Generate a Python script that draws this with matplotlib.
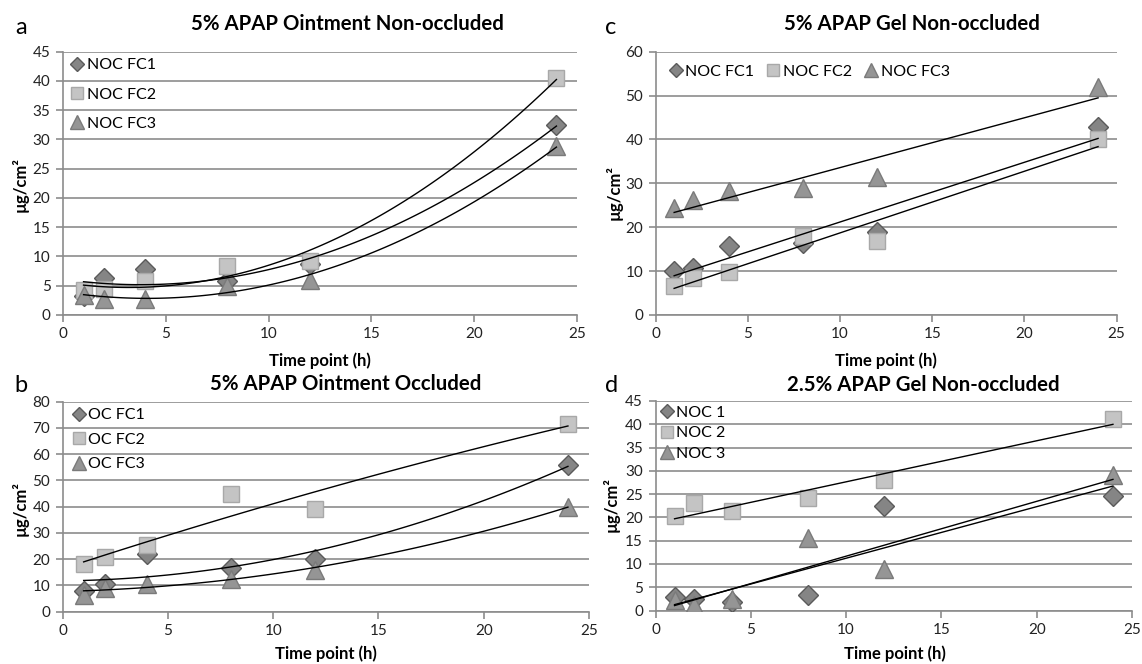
import numpy as np
import matplotlib
matplotlib.use("Agg")
import matplotlib.pyplot as plt

plt.rcParams['font.family'] = ['Lato', 'DejaVu Sans']

W, H = 1142, 664

time_h = [1, 2, 4, 8, 12, 24]

# a: 5% APAP Ointment Non-occluded
a_labels = ["NOC FC1", "NOC FC2", "NOC FC3"]
a_fc1 = [3.3, 6.4, 7.8, 5.8, 8.8, 32.5]
a_fc2 = [4.3, 4.5, 5.8, 8.3, 9.2, 40.5]
a_fc3 = [3.5, 2.8, 2.8, 5.0, 6.0, 28.8]

# b: 5% APAP Ointment Occluded
b_labels = ["OC FC1", "OC FC2", "OC FC3"]
b_fc1 = [8.0, 10.5, 22.0, 16.5, 20.0, 56.0]
b_fc2 = [18.0, 21.0, 25.5, 45.0, 39.0, 71.5]
b_fc3 = [6.5, 9.0, 10.5, 12.5, 16.0, 40.0]

# c: 5% APAP Gel Non-occluded
c_labels = ["NOC FC1", "NOC FC2", "NOC FC3"]
c_fc1 = [10.0, 10.8, 15.8, 16.5, 19.0, 42.8]
c_fc2 = [6.5, 8.5, 9.8, 18.0, 16.8, 40.0]
c_fc3 = [24.3, 26.3, 28.2, 29.0, 31.5, 52.0]

# d: 2.5% APAP Gel Non-occluded
d_labels = ["NOC 1", "NOC 2", "NOC 3"]
d_n1 = [2.8, 2.5, 1.8, 3.3, 22.5, 24.5]
d_n2 = [20.2, 23.0, 21.3, 24.2, 28.0, 41.2]
d_n3 = [2.2, 1.2, 2.5, 15.5, 9.0, 29.0]

styles = [
    dict(marker="D", ms=10, mfc="#858585", mec="#5a5a5a"),
    dict(marker="s", ms=12, mfc="#c4c4c4", mec="#a8a8a8"),
    dict(marker="^", ms=13, mfc="#959595", mec="#7a7a7a"),
]

fig = plt.figure(figsize=(W / 100, H / 100), dpi=100)


def box(x0, y0, x1, y1):
    return [x0 / W, 1 - y1 / H, (x1 - x0) / W, (y1 - y0) / H]


def ftext(x, y, s, **kw):
    fig.text(x / W, 1 - y / H, s, ha="center", va="center", **kw)


def panel(rect, series, labels, ymax, ystep, order, legend_kw):
    ax = fig.add_axes(box(*rect))
    for ys, lab, st in zip(series, labels, styles):
        ax.plot(time_h, ys, ls="none", mew=1, zorder=3, label=lab, **st)
    # trend lines fitted to each series (poly 2 for ointment, linear for gel)
    xs = np.linspace(1, 24, 100)
    for ys in series:
        coef = np.polyfit(time_h, ys, order)
        ax.plot(xs, np.polyval(coef, xs), color="black", lw=1, zorder=4)
    ax.set_xlim(0, 25)
    ax.set_ylim(0, ymax)
    ax.set_xticks(range(0, 26, 5))
    ax.set_yticks(np.arange(0, ymax + 1, ystep))
    ax.yaxis.grid(True, color="#8c8c8c", lw=1.2)
    ax.set_axisbelow(True)
    for s in ["top", "right"]:
        ax.spines[s].set_visible(False)
    for s in ["left", "bottom"]:
        ax.spines[s].set_color("#8c8c8c")
        ax.spines[s].set_linewidth(1.2)
    ax.tick_params(length=5, width=1.2, color="#8c8c8c", labelsize=11,
                   labelcolor="#222222", pad=4)
    ax.legend(frameon=False, fontsize=11.5, handletextpad=0.1,
              handlelength=1.0, borderaxespad=0, markerscale=0.75,
              **legend_kw)
    return ax


panel((63, 51.7, 577, 315), [a_fc1, a_fc2, a_fc3], a_labels, 45, 5, 2,
      dict(loc="upper left", bbox_to_anchor=(0.0, 1.0), labelspacing=0.95))
panel((62.6, 401.7, 589, 611.7), [b_fc1, b_fc2, b_fc3], b_labels, 80, 10, 2,
      dict(loc="upper left", bbox_to_anchor=(0.003, 1.0), labelspacing=0.65))
panel((655.7, 51.7, 1116.5, 315), [c_fc1, c_fc2, c_fc3], c_labels, 60, 10, 1,
      dict(loc="upper left", bbox_to_anchor=(0.012, 0.976), ncol=3,
           columnspacing=0.7))
panel((655.5, 401, 1132, 610.5), [d_n1, d_n2, d_n3], d_labels, 45, 5, 1,
      dict(loc="upper left", bbox_to_anchor=(-0.007, 1.008), labelspacing=0.4))

title_kw = dict(fontsize=14.7, fontweight="bold")
ftext(347, 24, "5% APAP Ointment Non-occluded", **title_kw)
ftext(912, 24, "5% APAP Gel Non-occluded", **title_kw)
ftext(346, 384, "5% APAP Ointment Occluded", **title_kw)
ftext(923, 385, "2.5% APAP Gel Non-occluded", **title_kw)

letter_kw = dict(fontsize=17)
ftext(21, 28, "a", **letter_kw)
ftext(611, 28, "c", **letter_kw)
ftext(21, 386, "b", **letter_kw)
ftext(612, 386, "d", **letter_kw)

lab_kw = dict(fontsize=12, fontweight="bold")
ftext(320, 361, "Time point (h)", **lab_kw)
ftext(886, 361, "Time point (h)", **lab_kw)
ftext(326, 654, "Time point (h)", **lab_kw)
ftext(895, 654, "Time point (h)", **lab_kw)

ylab_kw = dict(fontsize=12, fontweight="bold", rotation=90)
ftext(20, 185, "µg/cm²", **ylab_kw)
ftext(614, 193, "µg/cm²", **ylab_kw)
ftext(20, 509, "µg/cm²", **ylab_kw)
ftext(611, 505, "µg/cm²", **ylab_kw)

fig.savefig("out.png", dpi=100)
